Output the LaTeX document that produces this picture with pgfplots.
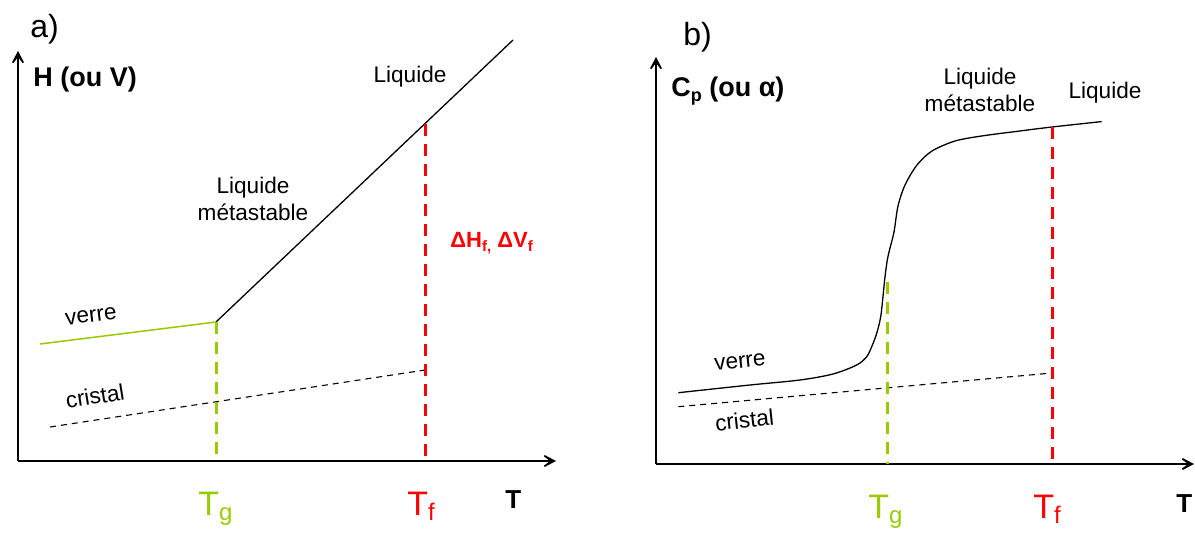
\documentclass[border=0pt]{standalone}
\usepackage{fontspec}
\setmainfont{Liberation Sans}
\usepackage{pgfplots}
\pgfplotsset{compat=1.18}
\usetikzlibrary{arrows.meta}
\definecolor{gcol}{RGB}{153,204,0}
\definecolor{rcol}{RGB}{255,0,0}
\newcommand{\fs}[1]{\fontsize{#1}{#1}\selectfont}
\begin{document}
\begin{tikzpicture}
\useasboundingbox (0,0) rectangle (597.5pt,266pt);
\pgfplotsset{
  panel/.style={scale only axis, width=298.75pt, height=266pt, ymin=0, ymax=532,
    hide axis, clip=false, anchor=south west},
  ax/.style={black, line width=1pt, mark=none, -{Stealth[length=9.5pt,width=10pt,inset=6.5pt]}},
  curve/.style={black, line width=0.65pt, mark=none},
  vdash/.style={line width=1.5pt, mark=none, dash pattern=on 6pt off 4pt},
  cdash/.style={black, line width=0.55pt, mark=none, dash pattern=on 3pt off 2.5pt},
}
\tikzset{txt/.style={inner sep=0pt, font=\fontsize{11.3}{13.5}\selectfont}}
% ---------------- panel a ----------------
\begin{axis}[panel, at={(0pt,0pt)}, xmin=0, xmax=597.5]
\addplot[ax] coordinates {(18,71) (18,481)};
\addplot[ax] coordinates {(18,71) (556,71)};
% liquid / metastable liquid
\addplot[curve] coordinates {(216,210) (513,492)};
% glass
\addplot[color=gcol, line width=0.75pt, mark=none] coordinates {(40,188) (216,210)};
% crystal
\addplot[cdash] coordinates {(50,105) (425,162)};
% Tg and Tf markers
\addplot[vdash, color=gcol] coordinates {(216,210) (216,71)};
\addplot[vdash, color=rcol] coordinates {(425,408) (425,71)};
% labels
\node[anchor=base west, inner sep=0pt] at (axis cs:30,495) {\fs{16}a)};
\node[anchor=base west, inner sep=0pt] at (axis cs:33,446) {\fs{13.5}\bfseries H (ou V)};
\node[txt] at (axis cs:410,455) {Liquide};
\node[txt, align=center] at (axis cs:253,333) {Liquide\\métastable};
\node[anchor=west, inner sep=0pt, text=rcol] at (axis cs:450,289)
  {\fs{11}\bfseries ΔH\raisebox{-2pt}{\fs{7.5}f,} ΔV\raisebox{-2pt}{\fs{7.5}f}};
\node[txt, rotate=7] at (axis cs:91,216) {verre};
\node[txt, rotate=9] at (axis cs:95,136) {cristal};
\node[anchor=base west, inner sep=0pt, text=gcol] at (axis cs:198,17) {\fs{17}T\raisebox{-2.5pt}{\fs{12}g}};
\node[anchor=base west, inner sep=0pt, text=rcol] at (axis cs:407,17) {\fs{17}T\raisebox{-2.5pt}{\fs{12}f}};
\node[anchor=base west, inner sep=0pt] at (axis cs:505,24) {\fs{13}\bfseries T};
\end{axis}
% ---------------- panel b ----------------
\begin{axis}[panel, at={(298.75pt,0pt)}, xmin=597.5, xmax=1195]
\addplot[ax] coordinates {(656,68) (656,475)};
\addplot[ax] coordinates {(656,68) (1194,68)};
% Cp curve
\addplot[curve, smooth, tension=0.5] coordinates {
 (678.3,139.3) (750,147) (800,152) (833,158) (856.7,167) (866.7,175.3)
 (871.7,185.3) (876.7,198.7) (880.7,215.3) (883.3,238.7) (885,255.3)
 (887.3,272) (889.5,282) (894,300) (898,326) (905,347) (917,367)
 (932,381) (955,391) (981.6,396) (1019.7,401) (1052,405) (1101.6,410.4)};
% crystal
\addplot[cdash] coordinates {(678.3,125.3) (1052,159)};
% Tg and Tf markers
\addplot[vdash, color=gcol] coordinates {(887,250) (887,68)};
\addplot[vdash, color=rcol] coordinates {(1052,405) (1052,68)};
% labels
\node[anchor=base west, inner sep=0pt] at (axis cs:683,487) {\fs{16}b)};
\node[anchor=base west, inner sep=0pt] at (axis cs:671,436) {\fs{13.5}\bfseries C\raisebox{-2.5pt}{\fs{9}p} (ou α)};
\node[txt, align=center] at (axis cs:980,442) {Liquide\\métastable};
\node[txt] at (axis cs:1105,439) {Liquide};
\node[txt, rotate=6] at (axis cs:740,170) {verre};
\node[txt, rotate=6] at (axis cs:744.5,112) {cristal};
\node[anchor=base west, inner sep=0pt, text=gcol] at (axis cs:868,14) {\fs{17}T\raisebox{-2.5pt}{\fs{12}g}};
\node[anchor=base west, inner sep=0pt, text=rcol] at (axis cs:1033,14) {\fs{17}T\raisebox{-2.5pt}{\fs{12}f}};
\node[anchor=base west, inner sep=0pt] at (axis cs:1176,20) {\fs{13}\bfseries T};
\end{axis}
\end{tikzpicture}
\end{document}
